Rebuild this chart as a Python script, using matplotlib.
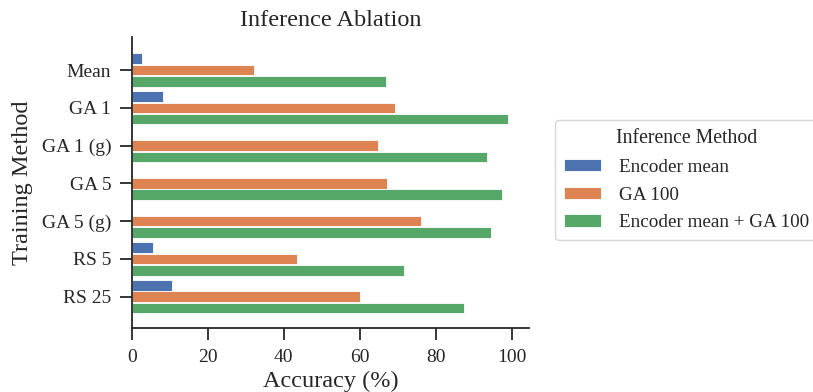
import matplotlib
matplotlib.use("Agg")
import matplotlib.pyplot as plt
import numpy as np

categories = ["Mean", "GA 1", "GA 1 (g)", "GA 5", "GA 5 (g)", "RS 5", "RS 25"]
series_names = ["Encoder mean", "GA 100", "Encoder mean + GA 100"]
encoder_mean = [2.8, 8.2, 0.0, 0.0, 0.0, 5.6, 10.5]
ga_100 = [32.1, 69.4, 64.9, 67.1, 76.1, 43.4, 60.1]
enc_plus_ga = [67.0, 98.9, 93.5, 97.5, 94.6, 71.7, 87.4]
colors = ["#4C72B0", "#DD8452", "#55A868"]

plt.rcParams['font.family'] = ['Liberation Serif', 'DejaVu Serif']
dark = "#262626"
plt.rcParams['text.color'] = dark
plt.rcParams['axes.labelcolor'] = dark
plt.rcParams['xtick.color'] = dark
plt.rcParams['ytick.color'] = dark

fig = plt.figure(figsize=(8.13, 3.92), dpi=100)
ax = fig.add_axes([0.162, 0.163, 0.489, 0.743])

y = np.arange(len(categories))
pitch = 0.3
h = 0.28
for i, (vals, name, c) in enumerate(zip([encoder_mean, ga_100, enc_plus_ga], series_names, colors)):
    ax.barh(y + (i - 1) * pitch, vals, height=h, color=c, edgecolor="white", linewidth=0.6, label=name)

ax.set_yticks(y)
ax.set_yticklabels(categories)
ax.set_ylim(len(categories) - 1 + 0.83, -0.88)
ax.set_xlim(0, 104.6)
ax.set_xticks([0, 20, 40, 60, 80, 100])

for s in ["top", "right"]:
    ax.spines[s].set_visible(False)
for s in ["left", "bottom"]:
    ax.spines[s].set_linewidth(1.3)
    ax.spines[s].set_color(dark)
ax.tick_params(axis="both", length=8.3, width=1.3, labelsize=14)
ax.tick_params(axis="y", pad=6.5)
ax.tick_params(axis="x", pad=7)

ax.set_xlabel("Accuracy (%)", fontsize=17.5, labelpad=3)
ax.set_ylabel("Training Method", fontsize=17.5, labelpad=6)
ax.set_title("Inference Ablation", fontsize=17.5, pad=8)

leg = ax.legend(title="Inference Method", loc="center left", bbox_to_anchor=(1.065, 0.508),
                fontsize=13.8, title_fontsize=14.2, frameon=True, handlelength=1.95,
                handleheight=0.6, handletextpad=0.95, borderpad=0.45, labelspacing=0.56,
                borderaxespad=0.0)
leg.get_frame().set_edgecolor("#cccccc")

fig.savefig("out.png", dpi=100)
